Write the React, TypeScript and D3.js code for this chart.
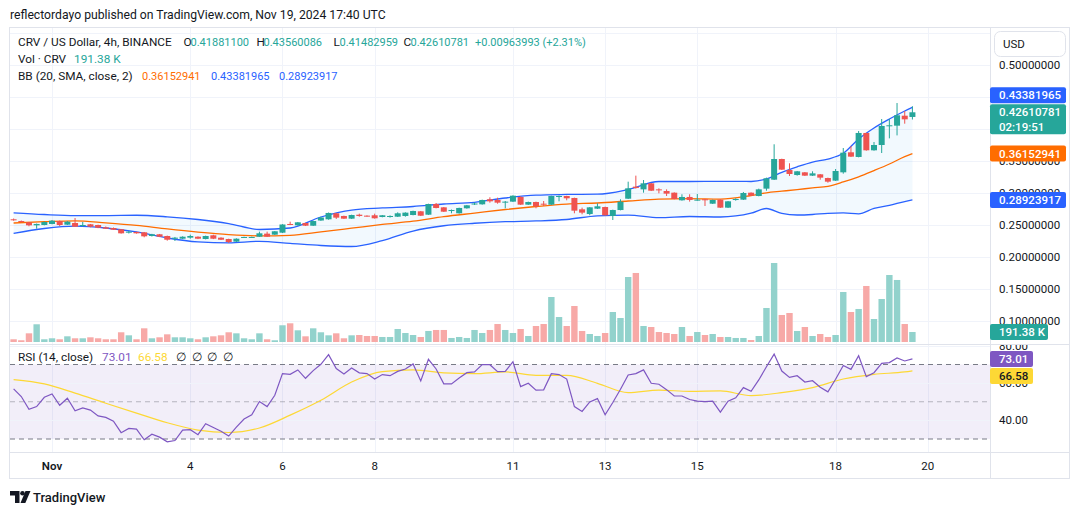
import React from 'react';
import * as d3 from 'd3';

// CRV / USD 4h bars on Binance, first bar Oct 31 04:00 UTC, last bar Nov 19 16:00 UTC
const FIRST_BAR = Date.UTC(2024, 9, 31, 4);
const BAR_MS = 4 * 60 * 60 * 1000;

const opens = [
  0.2589, 0.2562, 0.2542, 0.2495, 0.2500, 0.2516, 0.2562, 0.2505, 0.2531, 0.2484,
  0.2511, 0.2500, 0.2464, 0.2453, 0.2433, 0.2380, 0.2391, 0.2386, 0.2328, 0.2355,
  0.2328, 0.2286, 0.2286, 0.2302, 0.2317, 0.2281, 0.2339, 0.2302, 0.2281, 0.2240,
  0.2302, 0.2308, 0.2317, 0.2365, 0.2349, 0.2380, 0.2516, 0.2495, 0.2531, 0.2489,
  0.2570, 0.2589, 0.2683, 0.2641, 0.2599, 0.2661, 0.2646, 0.2652, 0.2625, 0.2625,
  0.2630, 0.2641, 0.2656, 0.2714, 0.2661, 0.2828, 0.2776, 0.2723, 0.2683, 0.2761,
  0.2820, 0.2823, 0.2902, 0.2891, 0.2855, 0.2865, 0.2938, 0.2818, 0.2859, 0.2833,
  0.2818, 0.2938, 0.2953, 0.2922, 0.2745, 0.2672, 0.2755, 0.2781, 0.2641, 0.2734,
  0.2911, 0.3099, 0.3057, 0.3151, 0.3057, 0.3031, 0.3005, 0.2886, 0.2938, 0.2886,
  0.2902, 0.2833, 0.2896, 0.2771, 0.2891, 0.2896, 0.3005, 0.2953, 0.3068, 0.3208,
  0.3531, 0.3359, 0.3281, 0.3323, 0.3271, 0.3292, 0.3234, 0.3193, 0.3323, 0.3636,
  0.3563, 0.3938, 0.3667, 0.3750, 0.4047, 0.4052, 0.4208, 0.41881100,
];
const highs = [
  0.2601, 0.2570, 0.2547, 0.2523, 0.2555, 0.2578, 0.2570, 0.2562, 0.2609, 0.2547,
  0.2516, 0.2505, 0.2477, 0.2461, 0.2438, 0.2406, 0.2396, 0.2391, 0.2362, 0.2360,
  0.2334, 0.2313, 0.2323, 0.2349, 0.2323, 0.2334, 0.2349, 0.2308, 0.2286, 0.2292,
  0.2318, 0.2318, 0.2396, 0.2396, 0.2406, 0.2513, 0.2552, 0.2547, 0.2536, 0.2567,
  0.2630, 0.2695, 0.2688, 0.2646, 0.2661, 0.2677, 0.2651, 0.2677, 0.2656, 0.2651,
  0.2698, 0.2698, 0.2724, 0.2719, 0.2833, 0.2844, 0.2781, 0.2742, 0.2771, 0.2813,
  0.2852, 0.2896, 0.2933, 0.2927, 0.2875, 0.2964, 0.2948, 0.2865, 0.2865, 0.2875,
  0.2958, 0.2961, 0.2958, 0.2927, 0.2771, 0.2781, 0.2839, 0.2787, 0.2740, 0.2902,
  0.3177, 0.3271, 0.3203, 0.3157, 0.3073, 0.3057, 0.3010, 0.2980, 0.2980, 0.2984,
  0.2907, 0.2896, 0.2901, 0.2875, 0.2917, 0.3016, 0.3010, 0.3068, 0.3240, 0.3761,
  0.3536, 0.3464, 0.3344, 0.3328, 0.3339, 0.3297, 0.3240, 0.3375, 0.3703, 0.3734,
  0.3969, 0.3943, 0.3797, 0.4156, 0.4156, 0.4406, 0.4281, 0.43560086,
];
const lows = [
  0.2567, 0.2539, 0.2480, 0.2442, 0.2495, 0.2511, 0.2484, 0.2500, 0.2469, 0.2474,
  0.2464, 0.2450, 0.2438, 0.2422, 0.2365, 0.2367, 0.2365, 0.2308, 0.2320, 0.2311,
  0.2255, 0.2250, 0.2280, 0.2286, 0.2280, 0.2275, 0.2280, 0.2266, 0.2219, 0.2234,
  0.2297, 0.2302, 0.2313, 0.2313, 0.2344, 0.2375, 0.2498, 0.2490, 0.2484, 0.2484,
  0.2565, 0.2583, 0.2594, 0.2594, 0.2594, 0.2630, 0.2630, 0.2599, 0.2620, 0.2615,
  0.2625, 0.2630, 0.2651, 0.2640, 0.2656, 0.2760, 0.2703, 0.2683, 0.2677, 0.2755,
  0.2813, 0.2818, 0.2849, 0.2833, 0.2761, 0.2860, 0.2813, 0.2813, 0.2761, 0.2797,
  0.2813, 0.2870, 0.2886, 0.2683, 0.2667, 0.2652, 0.2750, 0.2646, 0.2578, 0.2729,
  0.2906, 0.3068, 0.3005, 0.3031, 0.2995, 0.2953, 0.2901, 0.2880, 0.2865, 0.2880,
  0.2797, 0.2828, 0.2766, 0.2766, 0.2880, 0.2891, 0.2953, 0.2948, 0.3036, 0.3203,
  0.3360, 0.3266, 0.3271, 0.3266, 0.3266, 0.3208, 0.3161, 0.3188, 0.3302, 0.3562,
  0.3557, 0.3661, 0.3661, 0.3625, 0.3854, 0.3900, 0.4083, 0.41482959,
];
const closes = [
  0.2578, 0.2547, 0.2495, 0.2516, 0.2547, 0.2567, 0.2500, 0.2552, 0.2474, 0.2500,
  0.2474, 0.2458, 0.2442, 0.2427, 0.2370, 0.2396, 0.2370, 0.2323, 0.2355, 0.2317,
  0.2270, 0.2302, 0.2317, 0.2328, 0.2286, 0.2328, 0.2286, 0.2270, 0.2234, 0.2286,
  0.2313, 0.2313, 0.2370, 0.2317, 0.2402, 0.2508, 0.2503, 0.2542, 0.2489, 0.2562,
  0.2617, 0.2688, 0.2615, 0.2599, 0.2656, 0.2641, 0.2636, 0.2605, 0.2652, 0.2641,
  0.2683, 0.2693, 0.2719, 0.2645, 0.2828, 0.2766, 0.2708, 0.2734, 0.2766, 0.2808,
  0.2836, 0.2891, 0.2870, 0.2849, 0.2865, 0.2958, 0.2818, 0.2859, 0.2792, 0.2818,
  0.2953, 0.2953, 0.2917, 0.2724, 0.2693, 0.2776, 0.2792, 0.2652, 0.2734, 0.2865,
  0.3073, 0.3078, 0.3151, 0.3036, 0.3042, 0.2990, 0.2906, 0.2938, 0.2891, 0.2896,
  0.2891, 0.2891, 0.2771, 0.2870, 0.2906, 0.3000, 0.2958, 0.3057, 0.3229, 0.3531,
  0.3365, 0.3297, 0.3339, 0.3271, 0.3307, 0.3240, 0.3177, 0.3344, 0.3630, 0.3568,
  0.3938, 0.3667, 0.3750, 0.4047, 0.4058, 0.4214, 0.4151, 0.42610781,
];
// volume in thousands of CRV
const volumesK = [
  52, 33, 166, 339, 52, 71, 52, 109, 71, 71,
  90, 71, 52, 52, 186, 128, 52, 262, 71, 90,
  147, 90, 90, 71, 52, 90, 109, 128, 186, 166,
  71, 52, 166, 52, 33, 320, 358, 224, 109, 262,
  186, 128, 166, 71, 128, 134, 115, 115, 96, 96,
  249, 172, 134, 96, 211, 230, 230, 77, 96, 77,
  230, 172, 230, 344, 230, 172, 249, 115, 306, 344,
  861, 478, 306, 689, 211, 153, 115, 172, 574, 459,
  1244, 1321, 306, 287, 191, 172, 153, 287, 115, 191,
  134, 153, 96, 96, 77, 77, 38, 115, 651, 1512,
  517, 555, 211, 287, 115, 153, 96, 134, 957, 574,
  632, 1072, 440, 823, 1282, 1187, 344, 191.38,
];
const rsi14 = [
  56.9, 52.8, 46.0, 47.4, 52.4, 54.2, 48.1, 51.9, 45.1, 46.7,
  45.5, 42.4, 41.6, 39.6, 33.4, 35.7, 35.3, 29.6, 32.6, 31.0,
  28.5, 29.2, 34.8, 35.0, 32.3, 38.2, 36.2, 34.2, 31.6, 36.4,
  40.7, 43.0, 50.1, 47.4, 53.5, 65.1, 64.7, 67.1, 62.6, 66.7,
  70.1, 75.3, 67.8, 64.9, 68.1, 65.5, 65.1, 62.2, 64.6, 64.0,
  66.3, 67.6, 70.3, 61.2, 72.8, 67.6, 59.6, 59.6, 62.8, 65.6,
  66.0, 69.9, 69.9, 66.2, 66.3, 71.5, 58.1, 59.9, 56.2, 56.4,
  65.1, 64.6, 62.2, 47.4, 44.8, 49.9, 51.7, 43.0, 49.6, 56.7,
  64.4, 65.1, 67.1, 59.9, 59.4, 56.5, 53.1, 53.1, 51.2, 50.3,
  50.1, 50.3, 44.4, 50.3, 52.1, 57.6, 55.6, 61.7, 68.8, 75.6,
  66.5, 63.1, 64.0, 60.6, 61.3, 57.8, 55.3, 62.1, 69.5, 67.4,
  74.7, 63.5, 65.6, 70.6, 71.0, 73.5, 71.9, 73.01,
];

// Bollinger Bands (20, SMA, close, 2) sampled at these bar numbers
const bbBars = [
  0, 4, 8, 12, 16, 20, 24, 28, 32, 36, 40, 44, 48, 52, 56, 60, 64, 68, 72, 76,
  80, 84, 88, 92, 96, 98, 100, 102, 104, 106, 108, 110, 112, 114, 116, 117,
];
const bbUpper = [
  0.2691, 0.2664, 0.2647, 0.2647, 0.2652, 0.2628, 0.2586, 0.2523, 0.2430, 0.2453,
  0.2625, 0.2734, 0.2766, 0.2789, 0.2828, 0.2855, 0.2922, 0.2967, 0.2977, 0.2981,
  0.3055, 0.3180, 0.3180, 0.3183, 0.3180, 0.3219, 0.3323, 0.3409, 0.3484, 0.3531,
  0.3620, 0.3844, 0.4016, 0.4156, 0.4281, 0.43381965,
];
const bbBasis = [
  0.2531, 0.2552, 0.2566, 0.2534, 0.2494, 0.2438, 0.2389, 0.2350, 0.2331, 0.2339,
  0.2392, 0.2450, 0.2509, 0.2559, 0.2630, 0.2686, 0.2742, 0.2789, 0.2827, 0.2844,
  0.2875, 0.2905, 0.2911, 0.2903, 0.2961, 0.3003, 0.3028, 0.3053, 0.3080, 0.3105,
  0.3172, 0.3252, 0.3350, 0.3453, 0.3567, 0.36152941,
];
const bbLower = [
  0.2370, 0.2445, 0.2481, 0.2453, 0.2391, 0.2297, 0.2236, 0.2220, 0.2245, 0.2213,
  0.2180, 0.2164, 0.2256, 0.2406, 0.2488, 0.2527, 0.2552, 0.2563, 0.2586, 0.2644,
  0.2655, 0.2614, 0.2633, 0.2625, 0.2684, 0.2758, 0.2680, 0.2656, 0.2664, 0.2683,
  0.2688, 0.2675, 0.2758, 0.2805, 0.2867, 0.28923917,
];

// RSI-based moving average, sampled every 4 bars
const rsiMaBars = [
  0, 4, 8, 12, 16, 20, 24, 28, 32, 36, 40, 44, 48, 52, 56, 60, 64, 68, 72, 76,
  80, 84, 88, 92, 96, 100, 104, 108, 112, 116, 117,
];
const rsiMa = [
  61.9, 59.6, 54.6, 49.2, 43.9, 38.7, 34.8, 33.5, 35.9, 42.8,
  50.8, 60.6, 66.2, 67.1, 65.5, 65.1, 66.0, 64.2, 64.2, 59.9,
  54.9, 56.2, 55.6, 55.8, 53.3, 54.9, 57.6, 62.2, 64.7, 66.0, 66.58,
];

const priceTicks = [0.1, 0.15, 0.2, 0.25, 0.3, 0.35, 0.4, 0.45, 0.5];
const priceGrid = [0.1, 0.15, 0.2, 0.25, 0.3, 0.35, 0.4, 0.45, 0.5, 0.55];
const rsiTicks = [80, 60, 40];
const dayTicks = [1, 4, 6, 8, 11, 13, 15, 18, 20];
const dayLabels = ['Nov', '4', '6', '8', '11', '13', '15', '18', '20'];

const FONT = "Roboto, 'Noto Sans', sans-serif";
const TEXT = '#131722';
const UP = '#26a69a';
const DOWN = '#ef5350';
const UP_VOL = '#92d2cc';
const DOWN_VOL = '#f7a9a7';
const BLUE = '#2962ff';
const ORANGE = '#ff6d00';
const PURPLE = '#7e57c2';
const YELLOW = '#fdd835';
const GRID = '#f0f3fa';
const BORDER = '#e0e3eb';

const fmt8 = (v: number) => v.toFixed(8);

export default function App() {
  const barTime = (i: number) => new Date(FIRST_BAR + i * BAR_MS);
  const x = d3.scaleTime().domain([barTime(-0.469), barTime(127.1)]).range([10, 990]);
  const y = d3.scaleLinear().domain([0.1, 0.5]).range([321, 65]);
  const yVol = d3.scaleLinear().domain([0, 1531]).range([342, 262]);
  const yRsi = d3.scaleLinear().domain([30, 70]).range([439, 364.5]);
  const bx = (i: number) => x(barTime(i));

  const bodyW = 6;
  const volW = 6.4;
  const last = opens.length - 1;

  const band = bbBars.map((b, k) => ({ b, u: bbUpper[k], m: bbBasis[k], l: bbLower[k] }));
  const bandArea = d3.area<any>().x(d => bx(d.b)).y0(d => y(d.l)).y1(d => y(d.u)).curve(d3.curveMonotoneX);
  const bandLine = (key: 'u' | 'm' | 'l') =>
    d3.line<any>().x(d => bx(d.b)).y(d => y(d[key])).curve(d3.curveMonotoneX)(band) || '';

  const rsiLine = d3.line<number>().x((_, i) => bx(i)).y(v => yRsi(v))(rsi14) || '';
  const maLine = d3.line<number>().x((_, k) => bx(rsiMaBars[k])).y(v => yRsi(v)).curve(d3.curveMonotoneX)(rsiMa) || '';

  // price-axis tags, the upper band tag sits above the two-line close tag
  const closeY = y(closes[last]);
  const closeTop = closeY - 8;
  const upperY = Math.min(y(bbUpper[bbUpper.length - 1]), closeTop - 9);
  const basisY = y(bbBasis[bbBasis.length - 1]);
  const lowerY = y(bbLower[bbLower.length - 1]);
  const volY = yVol(volumesK[last]);
  const rsiY = yRsi(rsi14[last]);
  const maY = Math.max(yRsi(rsiMa[rsiMa.length - 1]), rsiY + 17);

  // tick labels that a tag hides completely are left out
  const priceBoxes: [number, number][] = [
    [upperY - 8, upperY + 8], [closeTop, closeTop + 30], [basisY - 8, basisY + 8], [lowerY - 8, lowerY + 8],
  ];
  const hidden = (ty: number, boxes: [number, number][]) => boxes.some(([a, b]) => ty > a + 4 && ty < b - 4);
  const rsiBoxes: [number, number][] = [[rsiY - 8, rsiY + 8], [maY - 8, maY + 8]];

  const tag = (cy: number, fill: string, label: string, w = 76, color = '#fff') => (
    <g key={label + cy}>
      <rect x={990} y={cy - 8} width={w} height={16} rx={2} fill={fill} />
      <text x={999} y={cy} dominantBaseline="central" fontSize={11.5} fontWeight={500} fill={color}>{label}</text>
    </g>
  );

  const ohlc: [string, number, number, number][] = [
    ['O', opens[last], 183.5, 190.5],
    ['H', highs[last], 256.5, 263.5],
    ['L', lows[last], 333.5, 339.5],
    ['C', closes[last], 403.5, 410.5],
  ];

  return (
    <svg width={1080} height={515} style={{ position: 'fixed', left: 0, top: 0, background: '#fff' }} fontFamily={FONT}>
      <defs>
        <clipPath id="pricePane"><rect x={10} y={28} width={980} height={316} /></clipPath>
        <clipPath id="rsiPane"><rect x={10} y={345} width={980} height={107} /></clipPath>
        <clipPath id="rsiAxis"><rect x={990} y={345} width={80} height={107} /></clipPath>
      </defs>
      <rect width={1080} height={515} fill="#fff" />

      <text x={10} y={15} dominantBaseline="central" fontSize={12.2} fill={TEXT}>
        reflectordayo published on TradingView.com, Nov 19, 2024 17:40 UTC
      </text>

      {/* grid */}
      {dayTicks.map(d => {
        const gx = Math.round(x(new Date(Date.UTC(2024, 10, d)))) + 0.5;
        return <line key={'v' + d} x1={gx} x2={gx} y1={28} y2={453} stroke={GRID} />;
      })}
      {priceGrid.map(p => (
        <line key={'h' + p} x1={10} x2={990} y1={Math.round(y(p)) + 0.5} y2={Math.round(y(p)) + 0.5} stroke={GRID} />
      ))}

      {/* price pane */}
      <g clipPath="url(#pricePane)">
        {opens.map((o, i) => (
          <rect key={'vol' + i} x={bx(i) - volW / 2} y={yVol(volumesK[i])} width={volW}
            height={342 - yVol(volumesK[i])} fill={closes[i] >= o ? UP_VOL : DOWN_VOL} />
        ))}
        <path d={bandArea(band) || ''} fill="rgba(33,150,243,0.06)" />
        <path d={bandLine('u')} fill="none" stroke={BLUE} strokeWidth={1.3} />
        <path d={bandLine('l')} fill="none" stroke={BLUE} strokeWidth={1.3} />
        <path d={bandLine('m')} fill="none" stroke={ORANGE} strokeWidth={1.3} />
        {opens.map((o, i) => {
          const c = closes[i];
          const col = c >= o ? UP : DOWN;
          const cx = bx(i);
          const top = y(Math.max(o, c));
          const h = Math.max(1, y(Math.min(o, c)) - top);
          return (
            <g key={'k' + i}>
              <line x1={cx} x2={cx} y1={y(highs[i])} y2={y(lows[i])} stroke={col} strokeWidth={1} />
              <rect x={cx - bodyW / 2} y={top} width={bodyW} height={h} fill={col} />
            </g>
          );
        })}
      </g>

      {/* legend */}
      <g fontSize={11.8} dominantBaseline="central">
        <text x={18} y={42} fill={TEXT}>CRV / US Dollar, 4h, BINANCE</text>
        {ohlc.map(([k, v, lx, vx]) => (
          <g key={k}>
            <text x={lx} y={42} fill={TEXT}>{k}</text>
            <text x={vx} y={42} fill={UP} fontSize={11}>{fmt8(v)}</text>
          </g>
        ))}
        <text x={475} y={42} fill={UP} fontSize={11}>+0.00963993 (+2.31%)</text>
        <text x={18} y={59} fill={TEXT}>Vol · CRV</text>
        <text x={74} y={59} fill={UP}>191.38 K</text>
        <text x={18} y={76} fill={TEXT}>BB (20, SMA, close, 2)</text>
        <text x={142} y={76} fill={ORANGE} fontSize={11}>{fmt8(bbBasis[bbBasis.length - 1])}</text>
        <text x={211} y={76} fill={BLUE} fontSize={11}>{fmt8(bbUpper[bbUpper.length - 1])}</text>
        <text x={279} y={76} fill={BLUE} fontSize={11}>{fmt8(bbLower[bbLower.length - 1])}</text>
      </g>

      {/* pane separators and frame */}
      <line x1={9.5} x2={1069.5} y1={344.5} y2={344.5} stroke={BORDER} />
      <line x1={9.5} x2={1069.5} y1={452.5} y2={452.5} stroke={BORDER} />
      <line x1={990.5} x2={990.5} y1={27} y2={478} stroke={BORDER} />
      <rect x={9.5} y={27.5} width={1060} height={451} fill="none" stroke={BORDER} />

      {/* RSI pane */}
      <rect x={10} y={yRsi(70)} width={980} height={yRsi(30) - yRsi(70)} fill="rgba(126,87,194,0.1)" />
      {rsiTicks.map(t => (
        <line key={'rg' + t} x1={10} x2={990} y1={Math.round(yRsi(t)) + 0.5} y2={Math.round(yRsi(t)) + 0.5} stroke={GRID} />
      ))}
      <line x1={10} x2={990} y1={yRsi(70)} y2={yRsi(70)} stroke="#787b86" strokeDasharray="5 4" />
      <line x1={10} x2={990} y1={yRsi(50)} y2={yRsi(50)} stroke="rgba(120,123,134,0.5)" strokeDasharray="5 4" />
      <line x1={10} x2={990} y1={yRsi(30)} y2={yRsi(30)} stroke="#787b86" strokeDasharray="5 4" />
      <g clipPath="url(#rsiPane)">
        <path d={maLine} fill="none" stroke={YELLOW} strokeWidth={1.2} />
        <path d={rsiLine} fill="none" stroke={PURPLE} strokeWidth={1.2} />
      </g>
      <g fontSize={11.8} dominantBaseline="central">
        <text x={18} y={357} fill={TEXT}>RSI (14, close)</text>
        <text x={102} y={357} fill={PURPLE}>{rsi14[last].toFixed(2)}</text>
        <text x={138} y={357} fill={YELLOW}>{rsiMa[rsiMa.length - 1].toFixed(2)}</text>
        <text x={176} y={357} fill={TEXT}>∅</text>
        <text x={192} y={357} fill={TEXT}>∅</text>
        <text x={207} y={357} fill={TEXT}>∅</text>
        <text x={223} y={357} fill={TEXT}>∅</text>
      </g>

      {/* price axis */}
      <g fontSize={11.5} fill={TEXT}>
        {priceTicks.filter(p => !hidden(y(p), priceBoxes)).map(p => (
          <text key={'pt' + p} x={999} y={y(p)} dominantBaseline="central">{fmt8(p)}</text>
        ))}
      </g>
      <rect x={994.5} y={31.5} width={71} height={25} rx={6} fill="#fff" stroke={BORDER} />
      <text x={1003} y={44} dominantBaseline="central" fontSize={11.5} fill={TEXT}>USD</text>
      {tag(upperY, BLUE, fmt8(bbUpper[bbUpper.length - 1]))}
      <rect x={990} y={closeTop} width={76} height={30} rx={2} fill={UP} />
      <text x={999} y={closeY} dominantBaseline="central" fontSize={11.5} fontWeight={500} fill="#fff">{fmt8(closes[last])}</text>
      <text x={999} y={closeY + 14.5} dominantBaseline="central" fontSize={11.5} fontWeight={500} fill="#fff">02:19:51</text>
      {tag(basisY, ORANGE, fmt8(bbBasis[bbBasis.length - 1]))}
      {tag(lowerY, BLUE, fmt8(bbLower[bbLower.length - 1]))}
      {tag(volY, UP, '191.38 K', 58)}

      {/* RSI axis */}
      <g clipPath="url(#rsiAxis)" fontSize={11.5} fill={TEXT}>
        {rsiTicks.filter(t => !hidden(yRsi(t), rsiBoxes)).map(t => (
          <text key={'rt' + t} x={999} y={yRsi(t)} dominantBaseline="central">{t.toFixed(2)}</text>
        ))}
      </g>
      {tag(rsiY, PURPLE, rsi14[last].toFixed(2), 43)}
      {tag(maY, YELLOW, rsiMa[rsiMa.length - 1].toFixed(2), 43, TEXT)}

      {/* time axis */}
      <g fontSize={11.5} fill={TEXT} textAnchor="middle">
        {dayTicks.map((d, k) => (
          <text key={'dt' + d} x={x(new Date(Date.UTC(2024, 10, d)))} y={466} dominantBaseline="central"
            fontWeight={k === 0 ? 600 : 400}>{dayLabels[k]}</text>
        ))}
      </g>

      {/* footer */}
      <g fill={TEXT}>
        <path d="M10 491 h9.5 v12 h-4.5 v-7.5 h-5 z" />
        <circle cx={22.5} cy={493.3} r={2.3} />
        <path d="M25.5 491 h5 l-5.2 12 h-4.8 z" />
        <text x={33} y={497} dominantBaseline="central" fontSize={13} fontWeight={500}>TradingView</text>
      </g>
    </svg>
  );
}
